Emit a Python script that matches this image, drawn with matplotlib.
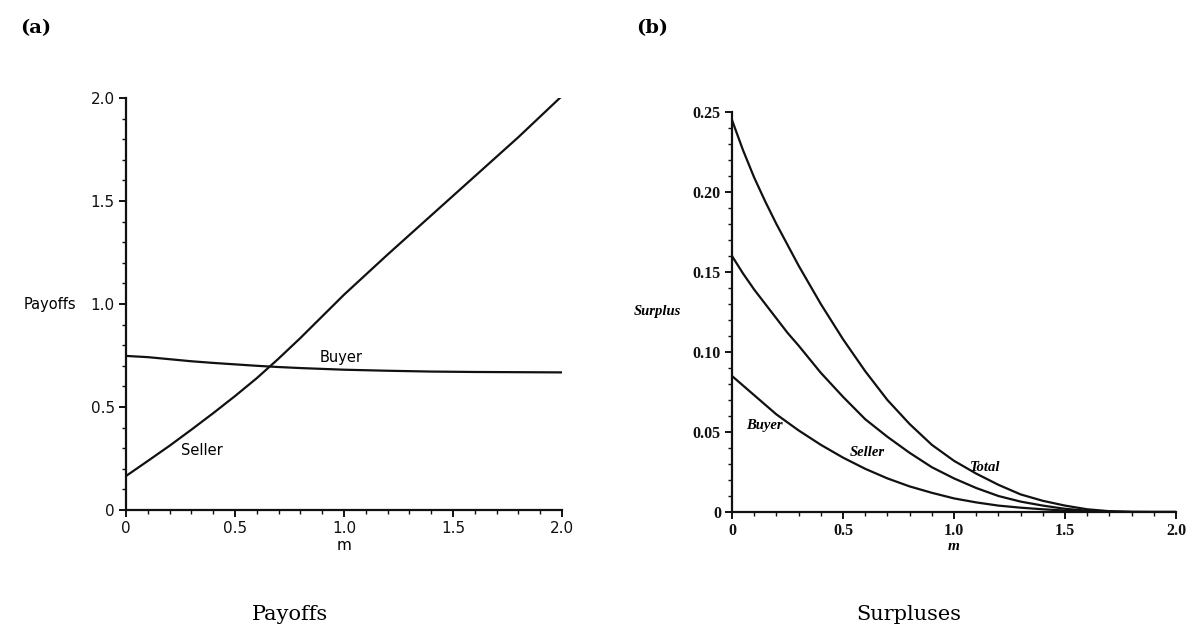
import matplotlib.pyplot as plt
from matplotlib.ticker import MultipleLocator, FixedLocator

# (a) payoffs against m
m_pay = [0, 0.1, 0.2, 0.3, 0.4, 0.5, 0.6, 0.7, 0.8, 0.9, 1.0, 1.2, 1.4, 1.5, 1.6, 1.8, 2.0]
seller_pay = [0.165, 0.238, 0.312, 0.39, 0.47, 0.553, 0.64, 0.735, 0.835, 0.94, 1.045,
              1.24, 1.43, 1.525, 1.62, 1.81, 2.01]
buyer_pay = [0.748, 0.742, 0.732, 0.722, 0.714, 0.707, 0.700, 0.694, 0.689, 0.685, 0.681,
             0.676, 0.672, 0.671, 0.670, 0.669, 0.668]

# (b) surpluses against m
m_sur = [0, 0.05, 0.1, 0.15, 0.2, 0.25, 0.3, 0.4, 0.5, 0.6, 0.7, 0.8, 0.9, 1.0,
         1.1, 1.2, 1.3, 1.4, 1.5, 1.6, 1.7, 1.8, 1.9, 2.0]
total_sur = [0.245, 0.226, 0.209, 0.194, 0.180, 0.167, 0.154, 0.130, 0.108, 0.088, 0.070,
             0.055, 0.042, 0.032, 0.024, 0.017, 0.011, 0.007, 0.004, 0.0017, 0.0005,
             0.0001, 0, 0]
seller_sur = [0.160, 0.149, 0.139, 0.130, 0.121, 0.112, 0.104, 0.087, 0.072, 0.058, 0.047,
              0.037, 0.028, 0.021, 0.015, 0.010, 0.0065, 0.004, 0.002, 0.0008, 0.0002,
              0, 0, 0]
buyer_sur = [0.085, 0.079, 0.073, 0.067, 0.061, 0.056, 0.051, 0.042, 0.034, 0.027, 0.021,
             0.016, 0.012, 0.0085, 0.006, 0.004, 0.0027, 0.0017, 0.0009, 0.0004, 0.0001,
             0, 0, 0]

ink = '#111111'
W, H = 1197, 641
fig = plt.figure(figsize=(W / 100, H / 100), dpi=100)


def px_axes(x0, x1, y_top, y_bot):
    return fig.add_axes([x0 / W, 1 - y_bot / H, (x1 - x0) / W, (y_bot - y_top) / H])


def style(ax):
    for s in ('top', 'right'):
        ax.spines[s].set_visible(False)
    for s in ('left', 'bottom'):
        ax.spines[s].set_linewidth(1.6)
        ax.spines[s].set_color(ink)
    ax.tick_params(which='major', direction='out', length=5, width=1.4, colors=ink, pad=3)
    ax.tick_params(which='minor', direction='out', length=3, width=1.0, colors=ink)


# left panel
ax1 = px_axes(126, 562, 98, 510)
ax1.plot(m_pay, seller_pay, color=ink, lw=1.6)
ax1.plot(m_pay, buyer_pay, color=ink, lw=1.6)
ax1.set_xlim(0, 2.0)
ax1.set_ylim(0, 2.0)
style(ax1)
ax1.xaxis.set_major_locator(FixedLocator([0, 0.5, 1.0, 1.5, 2.0]))
ax1.yaxis.set_major_locator(FixedLocator([0, 0.5, 1.0, 1.5, 2.0]))
ax1.xaxis.set_minor_locator(MultipleLocator(0.1))
ax1.yaxis.set_minor_locator(MultipleLocator(0.1))
ax1.set_xticklabels(['0', '0.5', '1.0', '1.5', '2.0'], fontsize=11, family='DejaVu Sans')
ax1.set_yticklabels(['0', '0.5', '1.0', '1.5', '2.0'], fontsize=11, family='DejaVu Sans')
ax1.set_xlabel('m', fontsize=11, family='DejaVu Sans', labelpad=1)
ax1.text(-0.115, 1.0, 'Payoffs', transform=ax1.get_yaxis_transform(), fontsize=10.5,
         family='DejaVu Sans', ha='right', va='center')
ax1.text(0.89, 0.74, 'Buyer', fontsize=10.5, family='DejaVu Sans', va='center')
ax1.text(0.25, 0.29, 'Seller', fontsize=10.5, family='DejaVu Sans', va='center')

# right panel
ax2 = px_axes(732, 1176, 112, 512)
ax2.plot(m_sur, total_sur, color=ink, lw=1.6)
ax2.plot(m_sur, seller_sur, color=ink, lw=1.6)
ax2.plot(m_sur, buyer_sur, color=ink, lw=1.6)
ax2.set_xlim(0, 2.0)
ax2.set_ylim(0, 0.25)
style(ax2)
ax2.xaxis.set_major_locator(FixedLocator([0, 0.5, 1.0, 1.5, 2.0]))
ax2.yaxis.set_major_locator(FixedLocator([0, 0.05, 0.10, 0.15, 0.20, 0.25]))
ax2.xaxis.set_minor_locator(MultipleLocator(0.1))
ax2.yaxis.set_minor_locator(MultipleLocator(0.01))
serif = 'Liberation Serif'
ax2.set_xticklabels(['0', '0.5', '1.0', '1.5', '2.0'], fontsize=11.5, family=serif,
                    weight='bold')
ax2.set_yticklabels(['0', '0.05', '0.10', '0.15', '0.20', '0.25'], fontsize=11.5,
                    family=serif, weight='bold')
ax2.set_xlabel('m', fontsize=11, family=serif, style='italic', weight='bold', labelpad=1)
ax2.text(-0.115, 0.125, 'Surplus', transform=ax2.get_yaxis_transform(), fontsize=10.5,
         family=serif, style='italic', weight='bold', ha='right', va='center')
ax2.text(0.065, 0.054, 'Buyer', fontsize=10.5, family=serif, style='italic',
         weight='bold', va='center')
ax2.text(0.53, 0.037, 'Seller', fontsize=10.5, family=serif, style='italic',
         weight='bold', va='center')
ax2.text(1.07, 0.028, 'Total', fontsize=10.5, family=serif, style='italic',
         weight='bold', va='center')

# panel tags and captions
fig.text(20 / W, 1 - 28 / H, '(a)', fontsize=14, family='DejaVu Serif', weight='bold',
         va='center')
fig.text(636 / W, 1 - 28 / H, '(b)', fontsize=14, family='DejaVu Serif', weight='bold',
         va='center')
fig.text(290 / W, 1 - 614 / H, 'Payoffs', fontsize=15, family='DejaVu Serif',
         ha='center', va='center')
fig.text(909 / W, 1 - 614 / H, 'Surpluses', fontsize=15, family='DejaVu Serif',
         ha='center', va='center')

fig.savefig('out.png', dpi=100, facecolor='white')
